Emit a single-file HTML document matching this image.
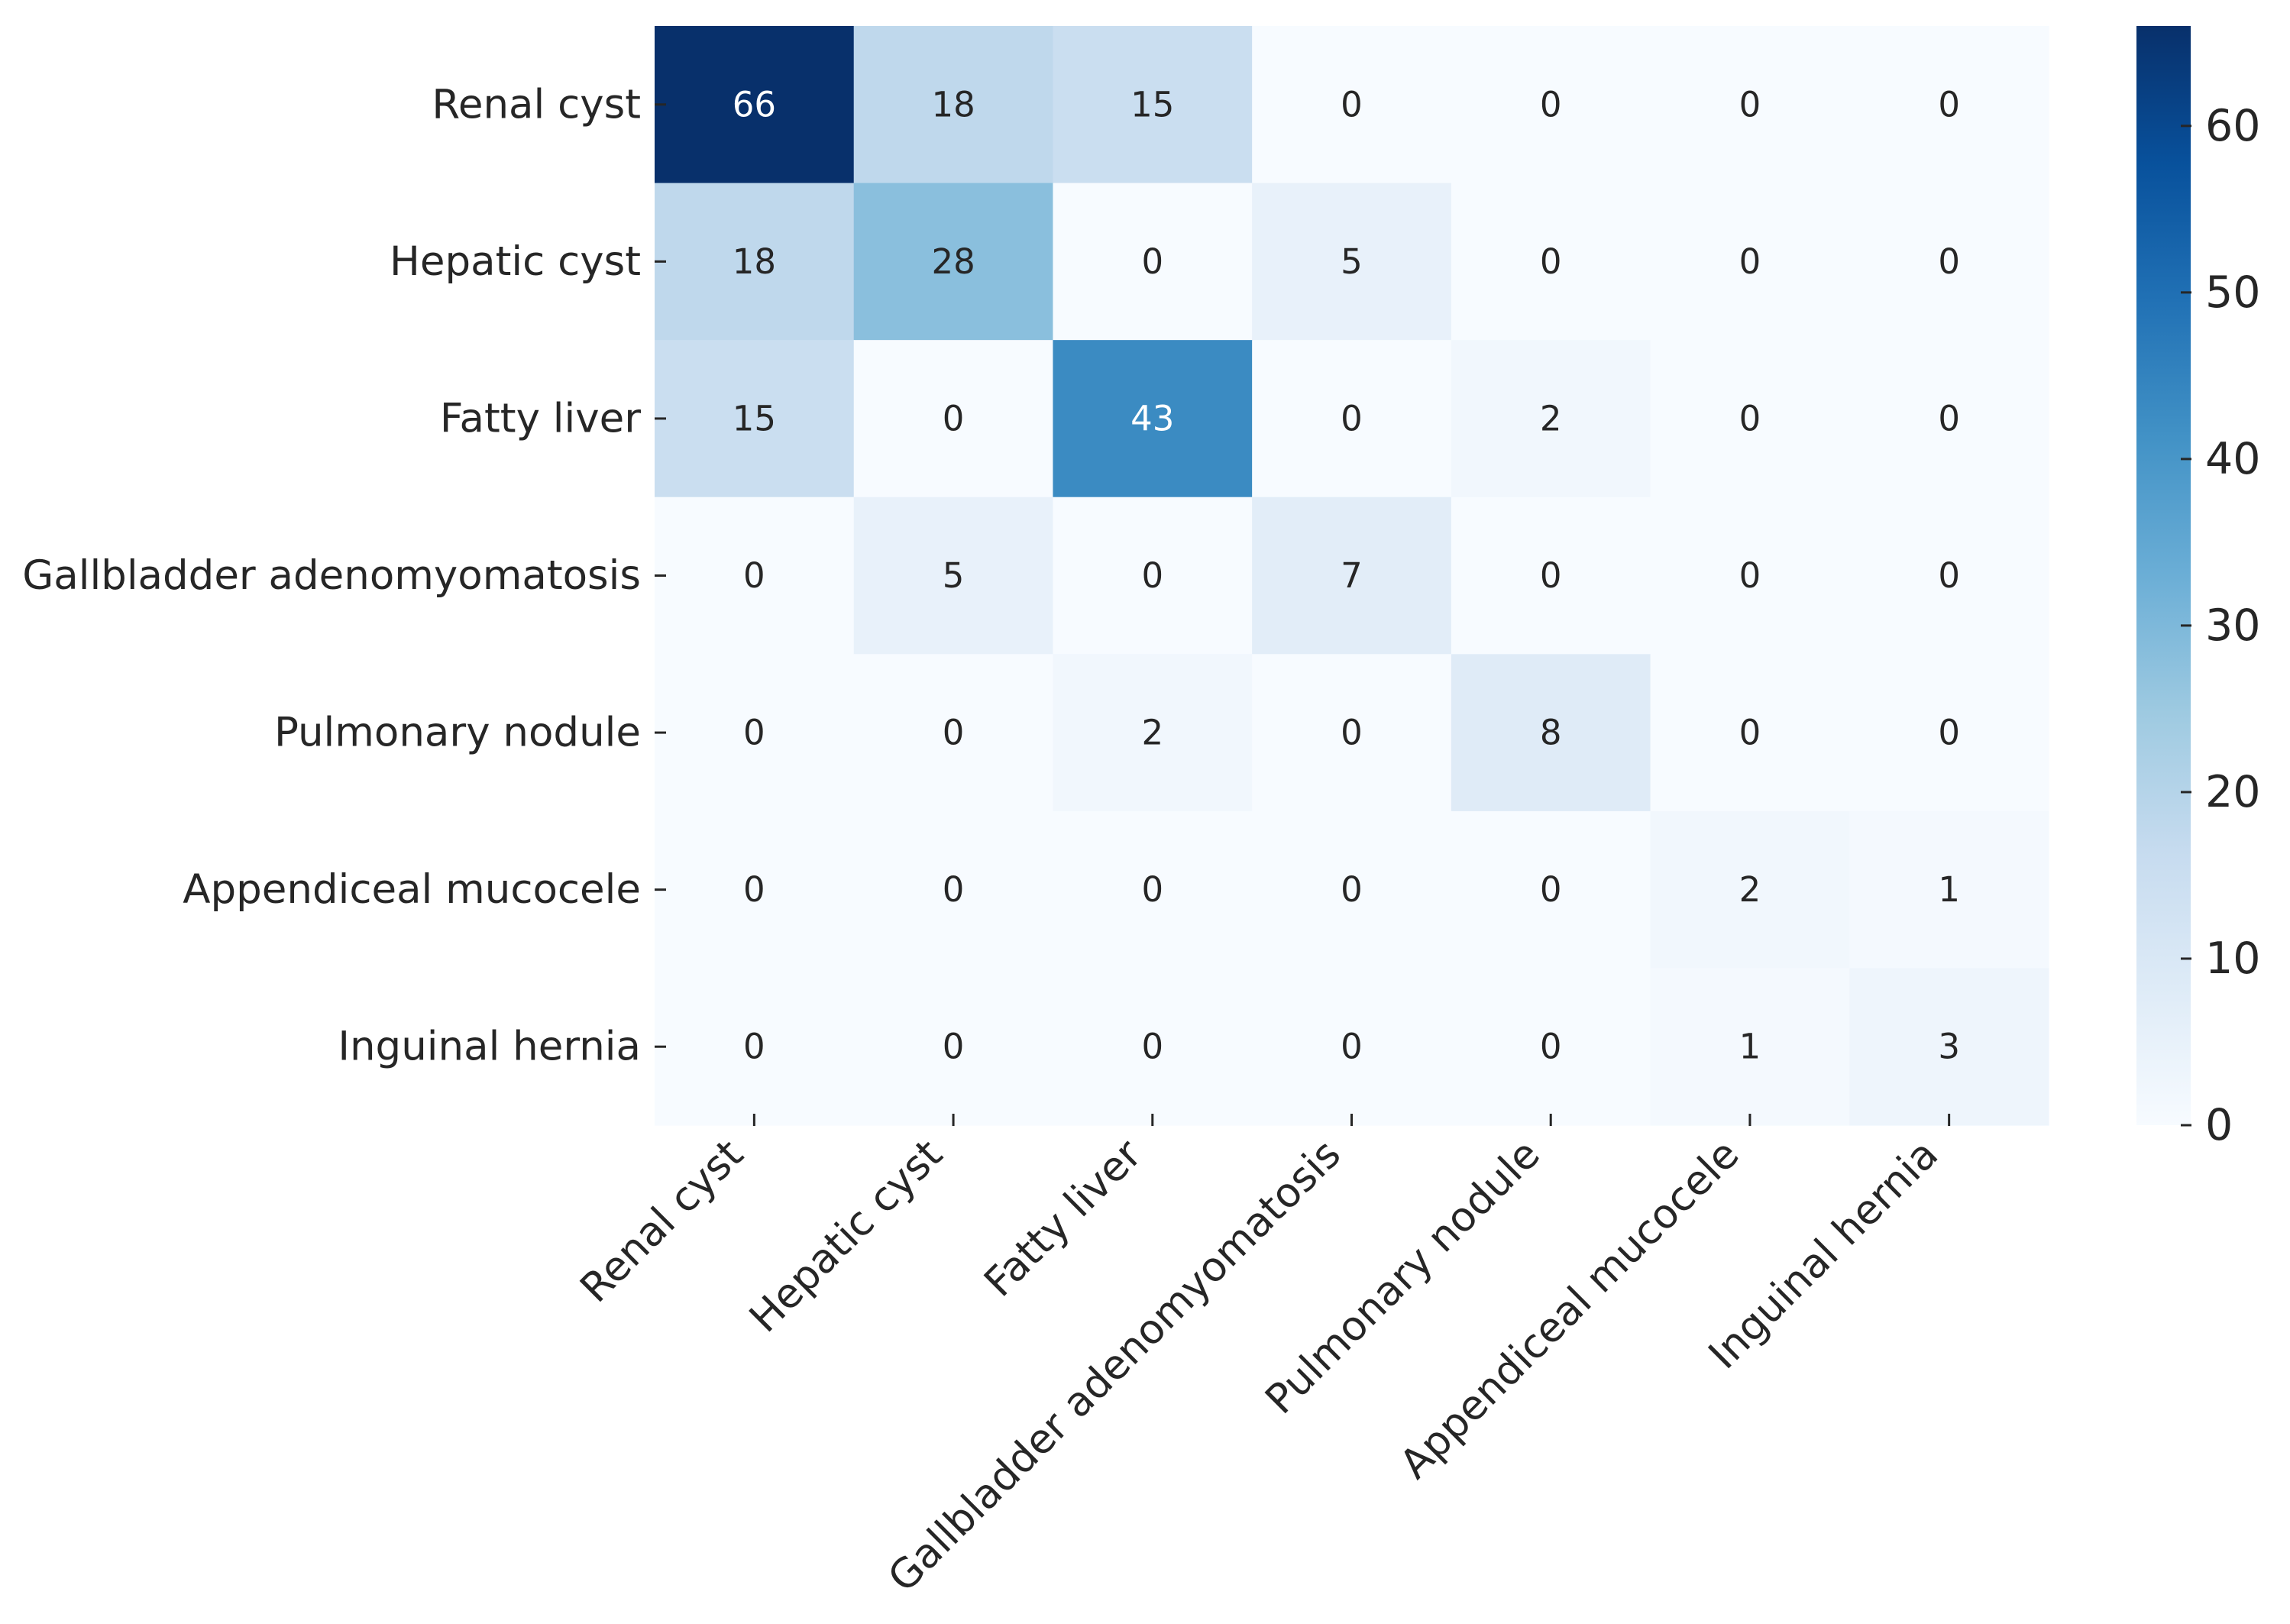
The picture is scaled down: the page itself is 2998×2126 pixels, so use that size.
<!DOCTYPE html>
<html><head><meta charset="utf-8"><style>
html,body{margin:0;padding:0;background:#fff;}
svg{display:block;font-family:"DejaVu Sans","Liberation Sans",sans-serif;}
</style></head><body>
<svg id="chart" width="2998" height="2126" viewBox="0 0 2998 2126">
<defs><linearGradient id="cbgrad" x1="0" y1="1" x2="0" y2="0">
<stop offset="0" stop-color="#f7fbff"/><stop offset="0.125" stop-color="#deebf7"/><stop offset="0.25" stop-color="#c6dbef"/><stop offset="0.375" stop-color="#9ecae1"/><stop offset="0.5" stop-color="#6baed6"/><stop offset="0.625" stop-color="#4292c6"/><stop offset="0.75" stop-color="#2171b5"/><stop offset="0.875" stop-color="#08519c"/><stop offset="1" stop-color="#08306b"/>
</linearGradient></defs>
<g id="cells"></g>
<g id="annots"></g>
<g id="yaxis"></g>
<g id="xaxis"></g>
<g id="cbar">
<rect x="2797" y="34" width="71" height="1439" fill="url(#cbgrad)"/>
</g>
</svg>
<script>
const labels = ["Renal cyst","Hepatic cyst","Fatty liver","Gallbladder adenomyomatosis","Pulmonary nodule","Appendiceal mucocele","Inguinal hernia"];
const row0 = [66,18,15,0,0,0,0];
const row1 = [18,28,0,5,0,0,0];
const row2 = [15,0,43,0,2,0,0];
const row3 = [0,5,0,7,0,0,0];
const row4 = [0,0,2,0,8,0,0];
const row5 = [0,0,0,0,0,2,1];
const row6 = [0,0,0,0,0,1,3];
const matrix = [row0,row1,row2,row3,row4,row5,row6];
const cbTicks = [0,10,20,30,40,50,60];
const vmin = 0, vmax = 66;

const L=857, R=2682, T=34, B=1473;
const n = labels.length;
const cw=(R-L)/n, ch=(B-T)/n;
const xc = i => L + (i+0.5)*cw;
const yc = j => T + (j+0.5)*ch;
const cbY = v => B - (v-vmin)/(vmax-vmin)*(B-T);

const stops=[[247,251,255],[222,235,247],[198,219,239],[158,202,225],[107,174,214],[66,146,198],[33,113,181],[8,81,156],[8,48,107]];
function color(v){
  let t=Math.max(0,Math.min(1,(v-vmin)/(vmax-vmin)))*8;
  let i=Math.min(7,Math.floor(t)), f=t-i;
  return stops[i].map((a,k)=>Math.round(a+(stops[i+1][k]-a)*f));
}
function relLum(c){
  const l=c.map(x=>{x/=255;return x<=0.03928?x/12.92:Math.pow((x+0.055)/1.055,2.4);});
  return 0.2126*l[0]+0.7152*l[1]+0.0722*l[2];
}
const NS="http://www.w3.org/2000/svg";
function mk(tag,attrs,parent){const e=document.createElementNS(NS,tag);for(const k in attrs)e.setAttribute(k,attrs[k]);parent.appendChild(e);return e;}
const cells=document.getElementById('cells'), annots=document.getElementById('annots');
const yaxis=document.getElementById('yaxis'), xaxis=document.getElementById('xaxis'), cbar=document.getElementById('cbar');

matrix.forEach((row,j)=>row.forEach((v,i)=>{
  const c=color(v);
  const r=mk('rect',{x:L+i*cw,y:T+j*ch,width:cw+0.6,height:ch+0.6,fill:`rgb(${c})`},cells);
  
  
  const t=mk('text',{x:xc(i),y:yc(j),'font-size':45,'text-anchor':'middle','dominant-baseline':'central',fill:relLum(c)>0.408?'#262626':'#ffffff'},annots);
  
  
  t.textContent=v;
}));

labels.forEach((lab,j)=>{
  const tk=mk('line',{x1:857,x2:872,y1:yc(j),y2:yc(j),stroke:'#262626','stroke-width':3},yaxis);
  
  
  const t=mk('text',{x:839,y:yc(j),'font-size':53,'text-anchor':'end','dominant-baseline':'central',fill:'#262626'},yaxis);
  
  
  t.textContent=lab;
});
labels.forEach((lab,i)=>{
  const tk=mk('line',{x1:xc(i),x2:xc(i),y1:1458,y2:1474,stroke:'#262626','stroke-width':3},xaxis);
  
  
  const ax=xc(i)-24, ay=1502;
  const t=mk('text',{x:ax,y:ay,'font-size':53,'text-anchor':'end','dominant-baseline':'central',fill:'#262626',transform:`rotate(-45 ${ax} ${ay})`},xaxis);
  
  
  t.textContent=lab;
});
cbTicks.forEach(v=>{
  const y=cbY(v);
  const tk=mk('line',{x1:2855,x2:2869,y1:y,y2:y,stroke:'#262626','stroke-width':3},cbar);
  
  
  const t=mk('text',{x:2887,y:y,'font-size':57,'dominant-baseline':'central',fill:'#262626'},cbar);
  
  
  t.textContent=v;
});
</script>
</body></html>
